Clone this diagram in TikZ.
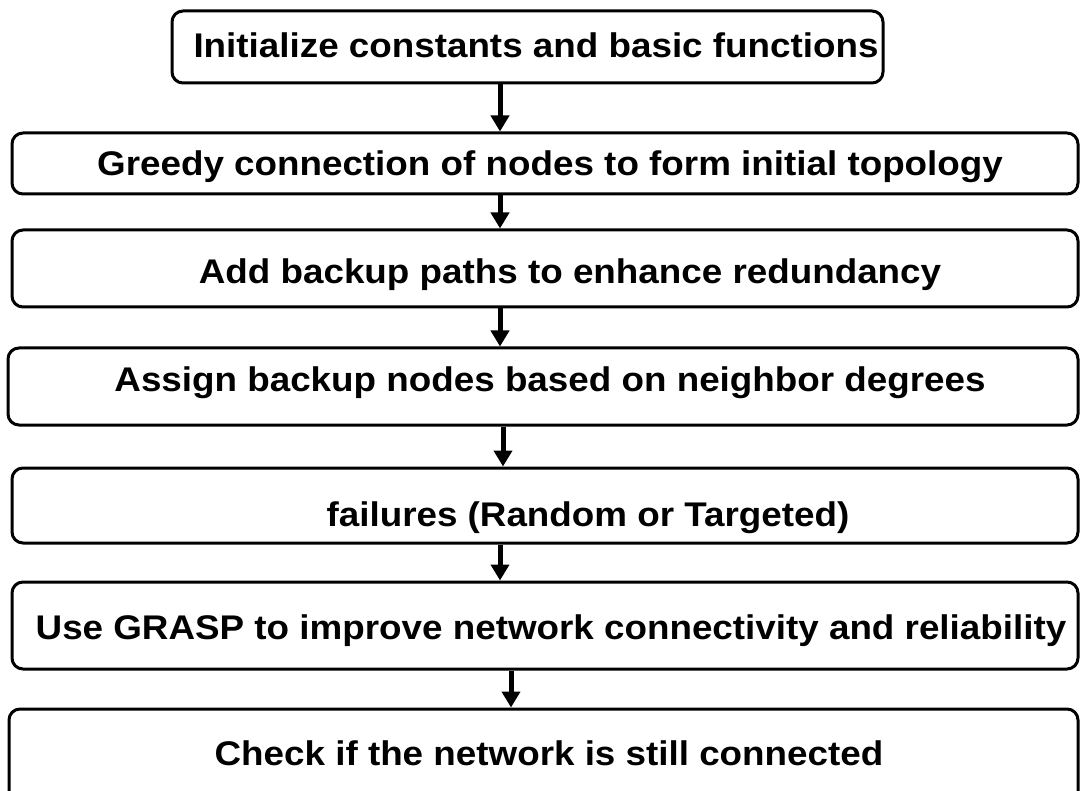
\documentclass[tikz,border=0pt]{standalone}
\usepackage{fontspec}
\setmainfont{Liberation Sans}[FakeStretch=1.076]
\usetikzlibrary{arrows.meta}
\begin{document}
\begin{tikzpicture}[x=1pt,y=-1pt,
  box/.style={draw, line width=3pt, rounded corners=11pt, inner sep=0pt},
  txt/.style={anchor=base, inner sep=0pt, font=\fontsize{34.2}{40}\selectfont\bfseries},
  arr/.style={line width=5pt, -{Triangle[width=18pt,length=16pt]}}]
\useasboundingbox (0,0) rectangle (1081,791);
% boxes
\node[box, minimum width=711pt, minimum height=72pt] (b1) at (527.5,47) {};
\node[box, minimum width=1066pt, minimum height=61pt] (b2) at (545,163.5) {};
\node[box, minimum width=1066pt, minimum height=77pt] (b3) at (545,268.5) {};
\node[box, minimum width=1070pt, minimum height=77pt] (b4) at (543,386.5) {};
\node[box, minimum width=1066pt, minimum height=75pt] (b5) at (545,505.5) {};
\node[box, minimum width=1066pt, minimum height=87pt] (b6) at (545,625.5) {};
\node[box, minimum width=1069pt, minimum height=121pt] (b7) at (543.5,769.5) {};
% texts
\node[txt] (t1) at (536,58) {Initialize constants and basic functions};
\node[txt] (t2) at (550,176) {Greedy connection of nodes to form initial topology};
\node[txt] (t3) at (570,284) {Add backup paths to enhance redundancy};
\node[txt] (t4) at (550,391) {Assign backup nodes based on neighbor degrees};
\node[txt] (t5) at (588,526) {failures (Random or Targeted)};
\node[txt] (t6) at (551,639) {Use GRASP to improve network connectivity and reliability};
\node[txt] (t7) at (549,765) {Check if the network is still connected};
% arrows
\draw[arr] ([xshift=-27.5pt]b1.south) -- ([xshift=-45pt]b2.north);
\draw[arr] ([xshift=-45pt]b2.south) -- ([xshift=-45pt]b3.north);
\draw[arr] ([xshift=-45pt]b3.south) -- ([xshift=-43pt]b4.north);
\draw[arr] ([xshift=-40pt]b4.south) -- ([xshift=-42pt]b5.north);
\draw[arr] ([xshift=-45pt]b5.south) -- ([xshift=-45pt]b6.north);
\draw[arr] ([xshift=-34pt]b6.south) -- ([xshift=-32.5pt]b7.north);
\end{tikzpicture}
\end{document}
